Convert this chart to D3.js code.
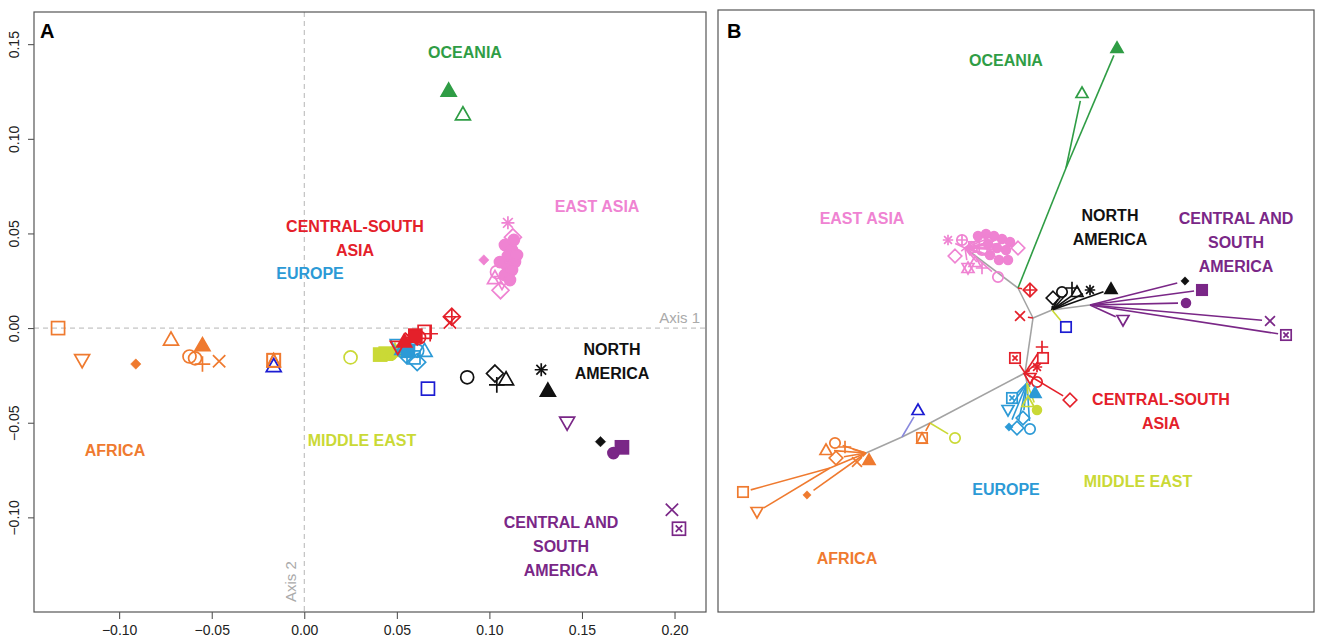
<!DOCTYPE html>
<html>
<head>
<meta charset="utf-8">
<script src="https://cdn.jsdelivr.net/npm/d3@7"></script>
<style>
  body { margin: 0; background: #fff; }
  svg { display: block; font-family: "Liberation Sans", Arial, sans-serif; }
  .region { font-weight: bold; font-size: 16px; }
  .tick text { font-size: 14px; }
</style>
</head>
<body>
<svg id="fig" width="1322" height="638"></svg>
<script>
// ---- data: panel A (PCA, axis 1 / axis 2) ----
const africaA = [[-0.133, 0.000], [-0.120, -0.017], [-0.091, -0.019], [-0.072, -0.006], [-0.055, -0.009],
  [-0.062, -0.015], [-0.059, -0.016], [-0.055, -0.019], [-0.046, -0.0175], [-0.0165, -0.017]];
const middleEastA = [[0.025, -0.0155], [0.041, -0.014], [0.044, -0.0135], [0.047, -0.014], [0.049, -0.012]];
const europeA = [[0.0505, -0.009], [0.055, -0.014], [0.059, -0.0155], [0.065, -0.012], [0.057, -0.010],
  [0.061, -0.012], [0.061, -0.018], [0.056, -0.012], [0.053, -0.011]];
const csAsiaA = [[0.0797, 0.006], [0.0787, 0.003], [0.065, -0.002], [0.068, -0.003], [0.057, -0.005],
  [0.058, -0.006], [0.0505, -0.010], [0.062, -0.005], [0.054, -0.007], [0.060, -0.004]];
const eastAsiaA = [[0.110, 0.0556], [0.1127, 0.048], [0.097, 0.036], [0.106, 0.020], [0.1084, 0.0439],
  [0.1122, 0.0413], [0.1100, 0.0381], [0.1057, 0.0349], [0.1138, 0.0349], [0.1100, 0.0317],
  [0.1041, 0.0296], [0.1084, 0.0280], [0.1122, 0.0307], [0.1030, 0.0265], [0.1068, 0.0243],
  [0.1132, 0.0466], [0.1149, 0.0386], [0.1111, 0.0254]];
const oceaniaA = [[0.078, 0.1255], [0.0857, 0.113]];
const northAmericaA = [[0.088, -0.026], [0.103, -0.024], [0.109, -0.027], [0.104, -0.030], [0.128, -0.022],
  [0.1316, -0.033], [0.160, -0.060]];
const csAmericaA = [[0.142, -0.050], [0.1716, -0.063], [0.167, -0.066], [0.1986, -0.096], [0.2024, -0.106]];
const otherBlueA = [[-0.0165, -0.020], [0.0668, -0.032]];

// R plotting symbols (pch) for each population, in the same order as above
const africaSym = [0, 6, 18, 2, 17, 1, 1, 3, 4, 14];
const middleEastSym = [1, 15, 15, 16, 17];
const europeSym = [6, 5, 0, 2, 18, 1, 5, 15, 2];
const csAsiaSym = [9, 4, 0, 3, 8, 4, 6, 1, 17, 15];
const eastAsiaSym = [8, 5, 18, 5, 16, 16, 16, 16, 16, 16, 1, 16, 16, 2, 6, 16, 16, 16];
const oceaniaSym = [17, 2];
const northAmericaSym = [1, 5, 2, 3, 8, 17, 18];
const csAmericaSym = [6, 15, 16, 4, 7];
const otherBlueSym = [2, 0];

const xTicks = [-0.10, -0.05, 0.00, 0.05, 0.10, 0.15, 0.20];
const yTicks = [-0.10, -0.05, 0.00, 0.05, 0.10, 0.15];

// ---- data: panel B (neighbour-joining tree, layout units) ----
const treeNodes = {
  c1: [300, 278], c2: [315, 308], c3: [334, 300], c4: [372, 295], c5: [307, 363], e1: [309, 373],
  c6: [212, 413], c7: [184, 427], c8: [148, 443], a1: [112, 458], g1: [348, 158], p1: [247, 238]
};
const treeEdges = [["c1", "c2"], ["c2", "c3"], ["c3", "c4"], ["c2", "c5"], ["c5", "e1"], ["c5", "c6"],
  ["c6", "c7"], ["c7", "c8"], ["c1", "p1"]];
const oceaniaB = [[399, 38, "g1"], [364, 83, "g1"]];
const eastAsiaB = [[230, 230], [237, 246], [250, 258], [264, 258], [280, 267], [300, 238], [244, 230], [257, 252],
  [260, 226], [268, 224], [276, 226], [284, 229], [270, 234], [279, 238], [288, 240], [292, 232],
  [272, 245], [281, 250], [290, 250], [264, 240], [256, 237]];
const csAsiaB = [[312, 280, "c1"], [302, 306, "c2"], [297, 348, "c5"], [324, 337, "c5"], [325, 348, "c5"],
  [319, 357, "c5"], [312, 368, "c5"], [352, 390, "c5"], [319, 372, "c5"]];
const northAmericaB = [[335, 288, "c3"], [344, 282, "c3"], [354, 278, "c3"], [359, 282, "c3"], [372, 280, "c3"],
  [393, 279, "c3"], [467, 271, "c4"]];
const csAmericaB = [[484, 280, "c4"], [468, 293, "c4"], [552, 311, "c4"], [568, 325, "c4"], [405, 310, "c4"]];
const europeB = [[294, 388, "e1"], [290, 400, "e1"], [291, 417, "e1"], [299, 418, "e1"], [305, 408, "e1"],
  [312, 419, "e1"], [317, 383, "e1"]];
const middleEastB = [[319, 400, "e1"], [310, 392, "e1"], [237, 428, "c6"]];
const otherBlueB = [[200, 400, "c7"], [348, 317, "c3"]];
const africaB = [[25, 482, "a1"], [39, 502, "a1"], [89, 485, "c8"], [108, 440, "c8"], [117, 433, "c8"],
  [118, 448, "c8"], [127, 437, "c8"], [139, 452, "c8"], [151, 450, "c8"], [204, 428, "c6"]];

const oceaniaSymB = [17, 2];
const eastAsiaSymB = [8, 5, 11, 3, 1, 5, 10, 2, 16, 16, 16, 16, 16, 16, 16, 16, 16, 16, 16, 1, 12];
const csAsiaSymB = [9, 4, 7, 3, 0, 8, 6, 5, 1];
const northAmericaSymB = [5, 1, 3, 2, 8, 17, 18];
const csAmericaSymB = [15, 16, 4, 7, 6];
const europeSymB = [7, 6, 18, 5, 5, 1, 17];
const middleEastSymB = [16, 2, 1];
const otherBlueSymB = [2, 0];
const africaSymB = [0, 6, 18, 2, 1, 5, 3, 4, 17, 14];

// ---- colours ----
const col = {
  africa: "#ef7a2f", middleEast: "#cad936", europe: "#2c9ad6", csAsia: "#e4202a",
  eastAsia: "#ef83d2", oceania: "#2f9d45", northAmerica: "#111111", csAmerica: "#7a2787",
  otherBlue: "#1c1cd2", gray: "#a3a3a3"
};

const svg = d3.select("#fig");

function symbol(g, pch, cx, cy, color, s = 6.5) {
  const el = g.append("g").attr("transform", `translate(${cx},${cy})`)
    .attr("stroke", color).attr("stroke-width", 1.7).attr("fill", "none");
  const sq = () => el.append("rect").attr("x", -s).attr("y", -s).attr("width", 2 * s).attr("height", 2 * s);
  const circ = (r = s) => el.append("circle").attr("r", r);
  const tri = (up = true) => {
    const h = s * 1.15, k = up ? 1 : -1;
    return el.append("path").attr("d", `M0,${-k * h} L${h},${k * h * 0.75} L${-h},${k * h * 0.75}Z`);
  };
  const plus = (r = s) => el.append("path").attr("d", `M${-r},0H${r}M0,${-r}V${r}`);
  const cross = (r = s) => el.append("path").attr("d", `M${-r},${-r}L${r},${r}M${-r},${r}L${r},${-r}`);
  const diamond = (r = s * 1.3) => el.append("path").attr("d", `M0,${-r}L${r},0L0,${r}L${-r},0Z`);
  switch (pch) {
    case 0: sq(); break;
    case 1: circ(); break;
    case 2: tri(true); break;
    case 3: plus(s * 1.2); break;
    case 4: cross(s * 0.95); break;
    case 5: diamond(); break;
    case 6: tri(false); break;
    case 7: sq(); cross(s * 0.5); break;
    case 8: plus(s); cross(s * 0.75); break;
    case 9: diamond(); plus(s * 1.3); break;
    case 10: circ(); plus(s); break;
    case 11: tri(true); tri(false); break;
    case 12: sq(); plus(s); break;
    case 13: circ(); cross(s * 0.7); break;
    case 14: sq(); el.append("path").attr("d", `M0,${-s}L${s},${s}L${-s},${s}Z`); break;
    case 15: sq().attr("fill", color); break;
    case 16: circ(s * 0.85).attr("fill", color); break;
    case 17: tri(true).attr("fill", color); break;
    case 18: diamond(s * 0.8).attr("fill", color).attr("stroke-width", 0.5); break;
  }
}

// ================= Panel A =================
const A = { left: 34, right: 706, top: 12, bottom: 612 };
const x = d3.scaleLinear().domain([-0.146, 0.217]).range([A.left, A.right]);
const y = d3.scaleLinear().domain([-0.150, 0.167]).range([A.bottom, A.top]);
const gA = svg.append("g");

gA.append("line").attr("x1", A.left).attr("x2", A.right).attr("y1", y(0)).attr("y2", y(0))
  .attr("stroke", "#b5b5b5").attr("stroke-dasharray", "5,4");
gA.append("line").attr("x1", x(0)).attr("x2", x(0)).attr("y1", A.top).attr("y2", A.bottom)
  .attr("stroke", "#b5b5b5").attr("stroke-dasharray", "5,4");
gA.append("text").attr("x", A.right - 6).attr("y", y(0) - 5).attr("text-anchor", "end")
  .attr("fill", "#aaaaaa").attr("font-size", 15).text("Axis 1");
gA.append("text").attr("transform", `translate(${x(0) - 8},${A.bottom - 10}) rotate(-90)`)
  .attr("fill", "#aaaaaa").attr("font-size", 15).text("Axis 2");

const fmt = (d) => d3.format(".2f")(d).replace("-", "\u2212");
gA.append("g").attr("transform", `translate(0,${A.bottom})`)
  .call(d3.axisBottom(x).tickValues(xTicks).tickFormat(fmt).tickSize(7).tickPadding(6))
  .call((g) => g.select(".domain").remove())
  .call((g) => g.selectAll("line").attr("stroke", "#444"));
gA.append("g").attr("transform", `translate(${A.left},0)`)
  .call(d3.axisLeft(y).tickValues(yTicks).tickFormat(fmt).tickSize(6).tickPadding(4))
  .call((g) => g.select(".domain").remove())
  .call((g) => g.selectAll("line").attr("stroke", "#444"))
  .call((g) => g.selectAll("text").attr("text-anchor", "middle").attr("dy", 0).attr("x", 0).attr("y", 0)
    .attr("transform", "translate(-15,0) rotate(-90)"));
gA.selectAll(".tick text").attr("fill", "#222");

gA.append("rect").attr("x", A.left).attr("y", A.top).attr("width", A.right - A.left).attr("height", A.bottom - A.top)
  .attr("fill", "none").attr("stroke", "#555").attr("stroke-width", 1.2);

const groupsA = [
  [africaA, africaSym, col.africa], [otherBlueA.slice(0, 1), otherBlueSym.slice(0, 1), col.otherBlue],
  [middleEastA, middleEastSym, col.middleEast], [europeA, europeSym, col.europe], [csAsiaA, csAsiaSym, col.csAsia],
  [eastAsiaA, eastAsiaSym, col.eastAsia], [oceaniaA, oceaniaSym, col.oceania],
  [northAmericaA, northAmericaSym, col.northAmerica], [csAmericaA, csAmericaSym, col.csAmerica],
  [otherBlueA.slice(1), otherBlueSym.slice(1), col.otherBlue]
];
groupsA.forEach(([pts, syms, c]) => pts.forEach((p, i) => symbol(gA, syms[i], x(p[0]), y(p[1]), c)));

// africa square-triangle sits above the blue triangle
symbol(gA, africaSym[9], x(africaA[9][0]), y(africaA[9][1]), col.africa);

gA.append("text").attr("x", 40).attr("y", 38).attr("font-size", 20).attr("font-weight", "bold").text("A");
const labelsA = [
  [["OCEANIA"], 465, 58, col.oceania], [["EAST ASIA"], 597, 212, col.eastAsia],
  [["CENTRAL-SOUTH", "ASIA"], 355, 232, col.csAsia], [["EUROPE"], 310, 279, col.europe],
  [["NORTH", "AMERICA"], 612, 355, col.northAmerica], [["AFRICA"], 115, 456, col.africa],
  [["MIDDLE EAST"], 362, 446, col.middleEast], [["CENTRAL AND", "SOUTH", "AMERICA"], 561, 528, col.csAmerica]
];

// ================= Panel B =================
const B = { left: 718, right: 1314, top: 10, bottom: 612 };
const tx = d3.scaleLinear().domain([0, 596]).range([B.left, B.right]);
const ty = d3.scaleLinear().domain([0, 602]).range([B.top, B.bottom]);
const gB = svg.append("g");
gB.append("rect").attr("x", B.left).attr("y", B.top).attr("width", B.right - B.left).attr("height", B.bottom - B.top)
  .attr("fill", "none").attr("stroke", "#555").attr("stroke-width", 1.2);

const edge = (a, b, c, shorten = 0) => {
  const x1 = tx(a[0]), y1 = ty(a[1]);
  let x2 = tx(b[0]), y2 = ty(b[1]);
  if (shorten) {
    const len = Math.hypot(x2 - x1, y2 - y1) || 1;
    const k = Math.max(0, (len - shorten) / len);
    x2 = x1 + (x2 - x1) * k; y2 = y1 + (y2 - y1) * k;
  }
  gB.append("line").attr("x1", x1).attr("y1", y1).attr("x2", x2).attr("y2", y2)
    .attr("stroke", c).attr("stroke-width", 1.6);
};
treeEdges.forEach(([a, b]) => edge(treeNodes[a], treeNodes[b], col.gray));
edge(treeNodes.c8, treeNodes.a1, col.africa);
edge(treeNodes.c1, treeNodes.g1, col.oceania);

const groupsB = [
  [oceaniaB, oceaniaSymB, col.oceania, "g1"], [eastAsiaB, eastAsiaSymB, col.eastAsia, "p1"],
  [csAmericaB, csAmericaSymB, col.csAmerica], [northAmericaB, northAmericaSymB, col.northAmerica],
  [csAsiaB, csAsiaSymB, col.csAsia], [europeB, europeSymB, col.europe], [middleEastB, middleEastSymB, col.middleEast],
  [otherBlueB, otherBlueSymB, col.otherBlue], [africaB, africaSymB, col.africa]
];
groupsB.forEach(([pts, syms, c, parent]) => pts.forEach((p) => {
  let lc = c;
  if (c === col.northAmerica && p[2] === "c4") lc = col.csAmerica;
  if (c === col.otherBlue) lc = p[2] === "c3" ? col.middleEast : "#8888dd";
  edge(treeNodes[p[2] || parent], p, lc, 8);
}));
groupsB.forEach(([pts, syms, c]) => pts.forEach((p, i) => symbol(gB, syms[i], tx(p[0]), ty(p[1]), c, 5.2)));

gB.append("text").attr("x", 727).attr("y", 38).attr("font-size", 20).attr("font-weight", "bold").text("B");
const labelsB = [
  [["OCEANIA"], 1006, 66, col.oceania], [["EAST ASIA"], 862, 224, col.eastAsia],
  [["NORTH", "AMERICA"], 1110, 221, col.northAmerica], [["CENTRAL AND", "SOUTH", "AMERICA"], 1236, 224, col.csAmerica],
  [["CENTRAL-SOUTH", "ASIA"], 1161, 405, col.csAsia], [["EUROPE"], 1006, 495, col.europe],
  [["MIDDLE EAST"], 1138, 487, col.middleEast], [["AFRICA"], 847, 564, col.africa]
];

[...labelsA, ...labelsB].forEach(([lines, lx, ly, c]) => {
  const t = svg.append("text").attr("class", "region").attr("fill", c).attr("text-anchor", "middle");
  lines.forEach((s, i) => t.append("tspan").attr("x", lx).attr("y", ly + i * 24).text(s));
});
</script>
</body>
</html>
